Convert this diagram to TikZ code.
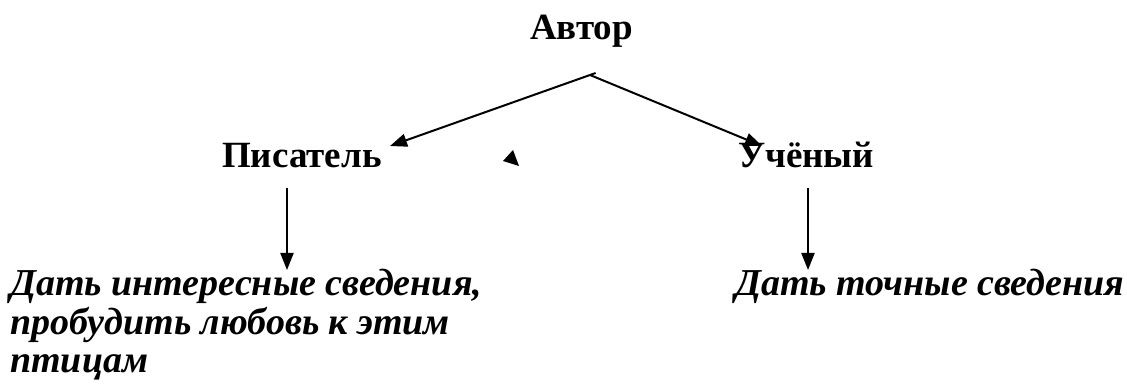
\documentclass[tikz,border=0pt]{standalone}
\usepackage{fontspec}
\setmainfont{Liberation Serif}
\usetikzlibrary{arrows.meta,calc}
\begin{document}
\begin{tikzpicture}[x=1pt,y=-1pt,
  lbl/.style={inner sep=0pt,anchor=base west,font=\fontsize{37}{40}\selectfont\bfseries},
  ital/.style={inner sep=0pt,anchor=base west,font=\fontsize{38}{38}\selectfont\bfseries\itshape},
  conn/.style={line width=2pt,-{Triangle[length=17pt,width=13pt]}}]
\useasboundingbox (0,0) rectangle (1127,387);
\node[lbl] (avtor) at (530,40) {Автор};
\node[lbl] (pis) at (222,168) {Писатель};
\node[lbl] (uch) at (738,168) {Учёный};
\node[ital] (left) at (10,296) {\begin{tabular}[t]{@{}l@{}}Дать интересные сведения,\\пробудить любовь к этим\\птицам\end{tabular}};
\node[ital] (right) at (735,296) {Дать точные сведения};
\coordinate (apex) at (590,75);
\coordinate (pisin) at (390,146);
\coordinate (uchin) at (762,146);
\coordinate (pisout) at (287,188);
\coordinate (leftin) at (287,270);
\coordinate (uchout) at (808,188);
\coordinate (rightin) at (808,270);
\draw[line width=2pt] ($(apex)!-6pt!(pisin)$) -- (apex);
\draw[conn] (apex) -- (pisin);
\draw[conn] (apex) -- (uchin);
\draw[conn] (pisout) -- (leftin);
\draw[conn] (uchout) -- (rightin);
\fill (513,150) -- (503,161) -- (519,166) -- cycle;
\end{tikzpicture}
\end{document}
